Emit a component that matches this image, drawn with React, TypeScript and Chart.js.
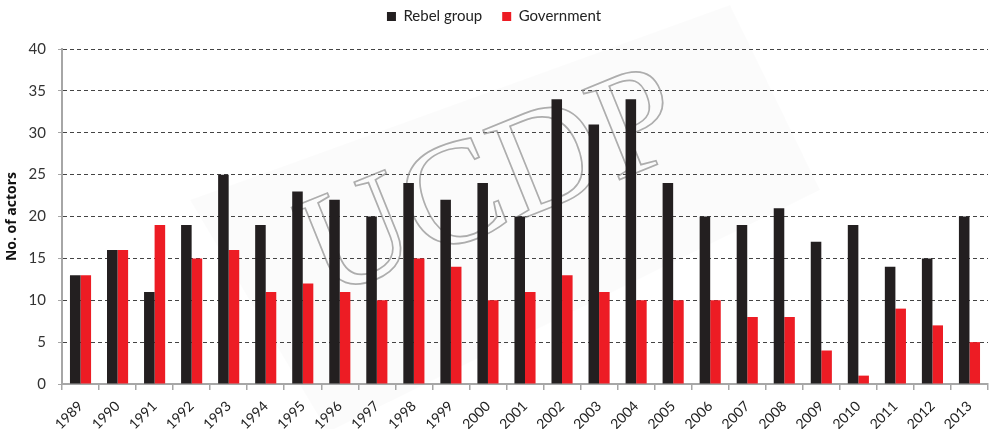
import React, { useEffect, useRef } from "react";
import { Chart, registerables } from "chart.js";

Chart.register(...registerables);

const years = ["1989","1990","1991","1992","1993","1994","1995","1996","1997","1998","1999","2000","2001","2002","2003","2004","2005","2006","2007","2008","2009","2010","2011","2012","2013"];
const rebelGroup = [13,16,11,19,25,19,23,22,20,24,22,24,20,34,31,34,24,20,19,21,17,19,14,15,20];
const government = [13,16,19,15,16,11,12,11,10,15,14,10,11,13,11,10,10,10,8,8,4,1,9,7,5];
const seriesNames = ["Rebel group", "Government"];
const yTitle = "No. of actors";
const watermarkText = "UCDP";

const FONT = "Lato, 'Open Sans', sans-serif";

const watermark = {
  id: "watermark",
  beforeDraw(chart: any) {
    const ctx = chart.ctx;
    ctx.save();
    ctx.fillStyle = "rgba(0,0,0,0.014)";
    ctx.beginPath();
    ctx.moveTo(190, 200);
    ctx.lineTo(730, 5);
    ctx.lineTo(820, 190);
    ctx.lineTo(328, 432);
    ctx.closePath();
    ctx.fill();
    ctx.restore();
  },
  beforeDatasetsDraw(chart: any) {
    const ctx = chart.ctx;
    ctx.save();
    ctx.translate(490, 180);
    ctx.rotate(-22 * Math.PI / 180);
    ctx.font = "148px 'Liberation Serif', 'DejaVu Serif', serif";
    ctx.textAlign = "center";
    ctx.textBaseline = "alphabetic";
    ctx.lineWidth = 1.7;
    ctx.strokeStyle = "rgba(140,140,140,0.7)";
    ctx.strokeText(watermarkText, 0, 48);
    ctx.restore();
  },
  afterLayout(chart: any) {
    const l = chart.legend;
    if (l) {
      l.top -= 15;
      l.bottom -= 15;
    }
  },
};

export default function App() {
  const ref = useRef<HTMLCanvasElement | null>(null);
  useEffect(() => {
    document.body.style.margin = "0";
    const chart = new Chart(ref.current as HTMLCanvasElement, {
      type: "bar",
      data: {
        labels: years,
        datasets: [
          { label: seriesNames[0], data: rebelGroup, backgroundColor: "#231f20", borderWidth: 0 },
          { label: seriesNames[1], data: government, backgroundColor: "#ed1c24", borderWidth: 0 },
        ],
      },
      options: {
        responsive: false,
        animation: false,
        layout: { padding: { left: 0, right: 8, top: 4, bottom: 0 } },
        plugins: {
          legend: {
            display: true,
            position: "top",
            labels: {
              boxWidth: 9,
              boxHeight: 9,
              padding: 20,
              color: "#222",
              font: { family: FONT, size: 15 },
            },
          },
          tooltip: { enabled: false },
        },
        datasets: { bar: { categoryPercentage: 0.57, barPercentage: 1 } },
        scales: {
          x: {
            grid: {
              display: true,
              offset: true,
              drawOnChartArea: false,
              drawTicks: true,
              tickLength: 6,
              color: "#a6a6a6",
              lineWidth: 1.5,
            },
            border: { display: true, color: "#a6a6a6", width: 2 },
            ticks: {
              minRotation: 45,
              maxRotation: 45,
              autoSkip: false,
              color: "#222",
              font: { family: FONT, size: 14 },
              padding: 8,
            },
            afterFit(scale: any) { scale.height = 45; },
          },
          y: {
            min: 0,
            max: 40,
            ticks: {
              stepSize: 5,
              color: "#333",
              font: { family: FONT, size: 15 },
              padding: 12,
            },
            grid: {
              color: "#444",
              lineWidth: 1,
              tickLength: 4,
              tickColor: "#a6a6a6",
            },
            border: { display: true, color: "#a6a6a6", width: 2, dash: [4, 3] },
            title: {
              display: true,
              text: yTitle,
              color: "#111",
              font: { family: "'Open Sans', sans-serif", size: 14, weight: "bold" },
              padding: { top: 4, bottom: 0 },
            },
            afterFit(scale: any) { scale.width = 62; },
          },
        },
      },
      plugins: [watermark],
    } as any);
    return () => chart.destroy();
  }, []);
  return (
    <div style={{ width: 996, height: 429 }}>
      <canvas ref={ref} width={996} height={429} style={{ display: "block" }} />
    </div>
  );
}
